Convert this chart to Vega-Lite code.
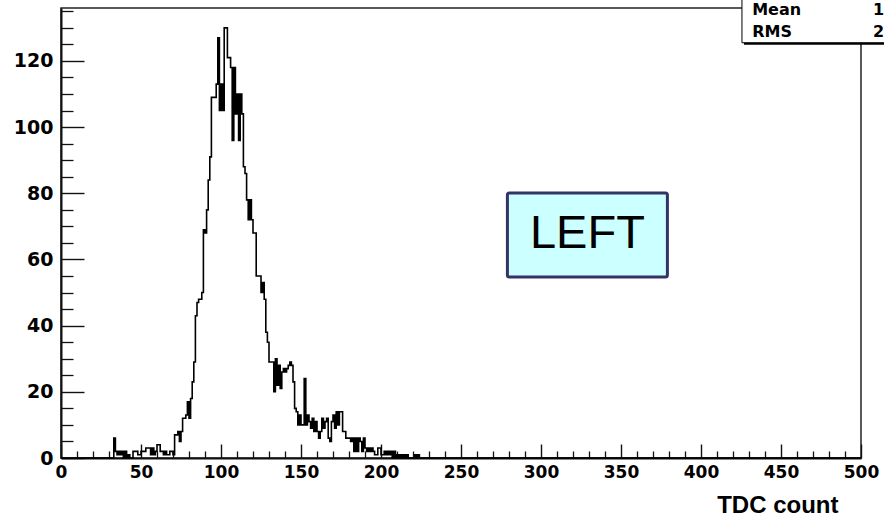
{
  "$schema": "https://vega.github.io/schema/vega-lite/v6.json",
  "width": 800,
  "height": 450,
  "autosize": {"type": "none"},
  "padding": {"left": 61, "top": 8, "right": 23, "bottom": 63},
  "background": "white",
  "config": {
    "view": {"stroke": "#222", "strokeWidth": 1.5},
    "axis": {"labelFont": "DejaVu Sans", "labelFontWeight": "bold", "labelColor": "black", "domainColor": "#111", "tickColor": "#111", "grid": false}
  },
  "datasets": {
    "hist": [
      {"tdc":0,"count":0},{"tdc":30,"count":0},{"tdc":31,"count":0},{"tdc":32,"count":0},{"tdc":33,"count":6},{"tdc":34,"count":2},{"tdc":35,"count":1},{"tdc":36,"count":2},{"tdc":37,"count":1},{"tdc":38,"count":2},{"tdc":39,"count":0},
      {"tdc":40,"count":2},{"tdc":41,"count":0},{"tdc":42,"count":1},{"tdc":43,"count":0},{"tdc":44,"count":0},{"tdc":45,"count":2},{"tdc":46,"count":2},{"tdc":47,"count":2},{"tdc":48,"count":1},{"tdc":49,"count":1},
      {"tdc":50,"count":2},{"tdc":51,"count":2},{"tdc":52,"count":2},{"tdc":53,"count":3},{"tdc":54,"count":3},{"tdc":55,"count":3},{"tdc":56,"count":1},{"tdc":57,"count":3},{"tdc":58,"count":1},{"tdc":59,"count":2},
      {"tdc":60,"count":4},{"tdc":61,"count":4},{"tdc":62,"count":2},{"tdc":63,"count":2},{"tdc":64,"count":1},{"tdc":65,"count":2},{"tdc":66,"count":1},{"tdc":67,"count":1},{"tdc":68,"count":2},{"tdc":69,"count":2},
      {"tdc":70,"count":1},{"tdc":71,"count":7},{"tdc":72,"count":7},{"tdc":73,"count":8},{"tdc":74,"count":5},{"tdc":75,"count":8},{"tdc":76,"count":12},{"tdc":77,"count":12},{"tdc":78,"count":13},{"tdc":79,"count":17},
      {"tdc":80,"count":12},{"tdc":81,"count":18},{"tdc":82,"count":23},{"tdc":83,"count":29},{"tdc":84,"count":43},{"tdc":85,"count":47},{"tdc":86,"count":48},{"tdc":87,"count":48},{"tdc":88,"count":50},{"tdc":89,"count":69},
      {"tdc":90,"count":68},{"tdc":91,"count":75},{"tdc":92,"count":84},{"tdc":93,"count":91},{"tdc":94,"count":109},{"tdc":95,"count":109},{"tdc":96,"count":109},{"tdc":97,"count":113},{"tdc":98,"count":127},{"tdc":99,"count":105},
      {"tdc":100,"count":113},{"tdc":101,"count":105},{"tdc":102,"count":130},{"tdc":103,"count":130},{"tdc":104,"count":121},{"tdc":105,"count":121},{"tdc":106,"count":118},{"tdc":107,"count":96},{"tdc":108,"count":118},{"tdc":109,"count":104},
      {"tdc":110,"count":110},{"tdc":111,"count":96},{"tdc":112,"count":110},{"tdc":113,"count":104},{"tdc":114,"count":88},{"tdc":115,"count":86},{"tdc":116,"count":78},{"tdc":117,"count":72},{"tdc":118,"count":78},{"tdc":119,"count":72},
      {"tdc":120,"count":68},{"tdc":121,"count":68},{"tdc":122,"count":55},{"tdc":123,"count":55},{"tdc":124,"count":55},{"tdc":125,"count":50},{"tdc":126,"count":53},{"tdc":127,"count":48},{"tdc":128,"count":38},{"tdc":129,"count":35},
      {"tdc":130,"count":29},{"tdc":131,"count":29},{"tdc":132,"count":29},{"tdc":133,"count":20},{"tdc":134,"count":30},{"tdc":135,"count":22},{"tdc":136,"count":28},{"tdc":137,"count":21},{"tdc":138,"count":26},{"tdc":139,"count":27},
      {"tdc":140,"count":26},{"tdc":141,"count":27},{"tdc":142,"count":28},{"tdc":143,"count":29},{"tdc":144,"count":28},{"tdc":145,"count":23},{"tdc":146,"count":15},{"tdc":147,"count":14},{"tdc":148,"count":10},{"tdc":149,"count":13},
      {"tdc":150,"count":10},{"tdc":151,"count":10},{"tdc":152,"count":24},{"tdc":153,"count":10},{"tdc":154,"count":13},{"tdc":155,"count":11},{"tdc":156,"count":9},{"tdc":157,"count":12},{"tdc":158,"count":8},{"tdc":159,"count":11},
      {"tdc":160,"count":8},{"tdc":161,"count":6},{"tdc":162,"count":8},{"tdc":163,"count":12},{"tdc":164,"count":9},{"tdc":165,"count":11},{"tdc":166,"count":12},{"tdc":167,"count":6},{"tdc":168,"count":5},{"tdc":169,"count":11},
      {"tdc":170,"count":13},{"tdc":171,"count":9},{"tdc":172,"count":14},{"tdc":173,"count":10},{"tdc":174,"count":14},{"tdc":175,"count":14},{"tdc":176,"count":8},{"tdc":177,"count":8},{"tdc":178,"count":6},{"tdc":179,"count":6},
      {"tdc":180,"count":6},{"tdc":181,"count":5},{"tdc":182,"count":6},{"tdc":183,"count":2},{"tdc":184,"count":6},{"tdc":185,"count":2},{"tdc":186,"count":6},{"tdc":187,"count":5},{"tdc":188,"count":2},{"tdc":189,"count":6},
      {"tdc":190,"count":3},{"tdc":191,"count":2},{"tdc":192,"count":3},{"tdc":193,"count":2},{"tdc":194,"count":3},{"tdc":195,"count":2},{"tdc":196,"count":1},{"tdc":197,"count":1},{"tdc":198,"count":3},{"tdc":199,"count":3},
      {"tdc":200,"count":1},{"tdc":201,"count":1},{"tdc":202,"count":2},{"tdc":203,"count":1},{"tdc":204,"count":2},{"tdc":205,"count":1},{"tdc":206,"count":2},{"tdc":207,"count":0},{"tdc":208,"count":2},{"tdc":209,"count":0},
      {"tdc":210,"count":1},{"tdc":211,"count":0},{"tdc":212,"count":1},{"tdc":213,"count":0},{"tdc":214,"count":1},{"tdc":215,"count":0},{"tdc":216,"count":1},{"tdc":217,"count":0},{"tdc":218,"count":0},{"tdc":219,"count":0},
      {"tdc":220,"count":0},{"tdc":221,"count":1},{"tdc":222,"count":0},{"tdc":223,"count":1},{"tdc":224,"count":0},{"tdc":225,"count":0},{"tdc":500,"count":0}
    ],
    "label": [{"x1": 279, "x2": 379, "y1": 54.7, "y2": 80.1, "xc": 329, "yc": 67.6, "text": "LEFT"}],
    "statsbox": [{"x1": 425.6, "x2": 530, "y1": 125.5, "y2": 142}],
    "stats": [
      {"name": "Mean", "val": "1", "xn": 432, "xv": 514.4, "yb": 133.9},
      {"name": "RMS", "val": "2", "xn": 432, "xv": 514.4, "yb": 127.2}
    ]
  },
  "resolve": {"axis": {"x": "independent", "y": "independent"}},
  "layer": [
    {
      "data": {"name": "hist"},
      "mark": {"type": "line", "interpolate": "step-after", "color": "black", "strokeWidth": 1.6},
      "encoding": {
        "x": {"field": "tdc", "type": "quantitative", "scale": {"domain": [0, 500], "nice": false, "zero": false},
          "axis": {"orient": "bottom", "values": [0, 50, 100, 150, 200, 250, 300, 350, 400, 450, 500], "tickSize": -14, "tickWidth": 1.4, "labelFontSize": 17, "labelPadding": 20, "labelFlush": false, "domainWidth": 2,
            "title": "TDC count", "titleFont": "Liberation Sans", "titleFontWeight": "bold", "titleFontSize": 24, "titleColor": "black", "titleX": 777, "titleY": 54, "titleAlign": "right", "titleBaseline": "alphabetic"}},
        "y": {"field": "count", "type": "quantitative", "scale": {"domain": [0, 136], "nice": false, "zero": true},
          "axis": {"orient": "left", "values": [0, 20, 40, 60, 80, 100, 120], "tickSize": -23, "tickWidth": 1.4, "labelFontSize": 19, "labelPadding": 31, "labelFlush": false, "domainWidth": 2, "title": null}}
      }
    },
    {
      "data": {"name": "label"},
      "mark": {"type": "rect", "fill": "#ccffff", "stroke": "#333366", "strokeWidth": 3, "cornerRadius": 2},
      "encoding": {
        "x": {"field": "x1", "type": "quantitative",
          "axis": {"orient": "bottom", "values": [10,20,30,40,60,70,80,90,110,120,130,140,160,170,180,190,210,220,230,240,260,270,280,290,310,320,330,340,360,370,380,390,410,420,430,440,460,470,480,490], "tickSize": -7, "tickWidth": 1.3, "labels": false, "domain": false, "title": null}},
        "x2": {"field": "x2"},
        "y": {"field": "y1", "type": "quantitative",
          "axis": {"orient": "left", "values": [5,10,15,25,30,35,45,50,55,65,70,75,85,90,95,105,110,115,125,130,135], "tickSize": -12, "tickWidth": 1.3, "labels": false, "domain": false, "title": null}},
        "y2": {"field": "y2"}
      }
    },
    {
      "data": {"name": "label"},
      "mark": {"type": "text", "font": "Liberation Sans", "fontSize": 47, "color": "black", "align": "center", "baseline": "middle"},
      "encoding": {
        "x": {"field": "xc", "type": "quantitative", "axis": null},
        "y": {"field": "yc", "type": "quantitative", "axis": null},
        "text": {"field": "text"}
      }
    },
    {
      "data": {"name": "statsbox"},
      "mark": {"type": "rect", "fill": "black", "xOffset": 2, "yOffset": 2, "x2Offset": 2, "y2Offset": 2},
      "encoding": {
        "x": {"field": "x1", "type": "quantitative", "axis": null},
        "x2": {"field": "x2"},
        "y": {"field": "y1", "type": "quantitative", "axis": null},
        "y2": {"field": "y2"}
      }
    },
    {
      "data": {"name": "statsbox"},
      "mark": {"type": "rect", "fill": "white", "stroke": "black", "strokeWidth": 1},
      "encoding": {
        "x": {"field": "x1", "type": "quantitative", "axis": null},
        "x2": {"field": "x2"},
        "y": {"field": "y1", "type": "quantitative", "axis": null},
        "y2": {"field": "y2"}
      }
    },
    {
      "data": {"name": "stats"},
      "mark": {"type": "text", "font": "DejaVu Sans", "fontWeight": "bold", "fontSize": 16, "color": "black", "align": "left", "baseline": "alphabetic"},
      "encoding": {
        "x": {"field": "xn", "type": "quantitative", "axis": null},
        "y": {"field": "yb", "type": "quantitative", "axis": null},
        "text": {"field": "name"}
      }
    },
    {
      "data": {"name": "stats"},
      "mark": {"type": "text", "font": "DejaVu Sans", "fontWeight": "bold", "fontSize": 16, "color": "black", "align": "right", "baseline": "alphabetic"},
      "encoding": {
        "x": {"field": "xv", "type": "quantitative", "axis": null},
        "y": {"field": "yb", "type": "quantitative", "axis": null},
        "text": {"field": "val"}
      }
    }
  ]
}
